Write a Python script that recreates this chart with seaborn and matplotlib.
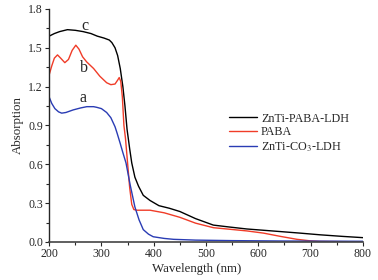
import numpy as np
import pandas as pd
import matplotlib
matplotlib.use('Agg')
import matplotlib.pyplot as plt
import seaborn as sns
from matplotlib.ticker import MultipleLocator

# 数据
wl_c = [200, 210, 220, 235, 250, 265, 280, 292, 305, 315, 320, 326, 331, 336, 341, 345,
        349, 354, 358, 364, 371, 380, 393, 410, 430, 450, 480, 514, 545, 578, 610, 642,
        680, 718, 760, 800]
abs_c = [1.59, 1.61, 1.625, 1.64, 1.635, 1.625, 1.61, 1.59, 1.575, 1.56, 1.54, 1.50, 1.44,
         1.34, 1.20, 1.05, 0.87, 0.72, 0.61, 0.50, 0.43, 0.36, 0.32, 0.28, 0.26, 0.235,
         0.18, 0.13, 0.115, 0.10, 0.09, 0.08, 0.068, 0.055, 0.043, 0.033]

wl_b = [200, 205, 210, 216, 222, 230, 237, 244, 251, 257, 264, 272, 285, 297, 310, 318,
        326, 331, 334, 337, 340, 343, 346, 350, 354, 358, 362, 368, 380, 393, 420, 450,
        480, 514, 545, 578, 610, 642, 674, 700, 718, 760, 800]
abs_b = [1.29, 1.36, 1.42, 1.445, 1.42, 1.385, 1.41, 1.48, 1.52, 1.49, 1.43, 1.39, 1.34,
         1.28, 1.23, 1.215, 1.22, 1.25, 1.27, 1.24, 1.12, 0.90, 0.80, 0.61, 0.42, 0.29,
         0.25, 0.245, 0.245, 0.245, 0.225, 0.19, 0.145, 0.11, 0.098, 0.085, 0.068, 0.043,
         0.02, 0.008, 0.004, 0.002, 0.001]

wl_a = [200, 205, 211, 218, 224, 232, 246, 260, 272, 285, 291, 300, 310, 318, 326, 330,
        336, 341, 347, 355, 364, 372, 380, 390, 399, 420, 438, 480, 550, 650, 800]
abs_a = [1.12, 1.07, 1.03, 1.005, 0.995, 1.0, 1.02, 1.035, 1.045, 1.045, 1.04, 1.03, 1.0,
         0.96, 0.89, 0.84, 0.76, 0.69, 0.61, 0.44, 0.27, 0.17, 0.095, 0.06, 0.04, 0.027,
         0.02, 0.014, 0.01, 0.007, 0.005]

labels = ['ZnTi-PABA-LDH', 'PABA', 'ZnTi-CO$_3$-LDH']
colors = ['black', '#f03c28', '#2a3cb4']
curve_tags = ['c', 'b', 'a']
tag_pos = [(268, 1.67), (266, 1.34), (264, 1.11)]

df = pd.concat([
    pd.DataFrame({'wl': wl_c, 'A': abs_c, 's': labels[0]}),
    pd.DataFrame({'wl': wl_b, 'A': abs_b, 's': labels[1]}),
    pd.DataFrame({'wl': wl_a, 'A': abs_a, 's': labels[2]}),
])

sns.set_style('ticks')
plt.rcParams['font.family'] = 'serif'
plt.rcParams['font.serif'] = ['Liberation Serif', 'DejaVu Serif']
plt.rcParams['mathtext.fontset'] = 'stix'

fig = plt.figure(figsize=(3.78, 2.8), dpi=100)
ax = fig.add_axes([0.130, 0.136, 0.830, 0.832])

sns.lineplot(data=df, x='wl', y='A', hue='s', palette=colors, hue_order=labels,
             ax=ax, linewidth=1.0, sort=False, estimator=None)

for t, (x, y) in zip(curve_tags, tag_pos):
    ax.text(x, y, t, fontsize=11.5, ha='center', va='center')

ax.set_xlim(200, 800)
ax.set_ylim(0, 1.8)
ax.xaxis.set_major_locator(MultipleLocator(100))
ax.xaxis.set_minor_locator(MultipleLocator(50))
ax.yaxis.set_major_locator(MultipleLocator(0.3))
ax.yaxis.set_minor_locator(MultipleLocator(0.15))
ax.yaxis.set_major_formatter(matplotlib.ticker.FormatStrFormatter('%.1f'))
ax.tick_params(which='major', length=3, width=0.8, labelsize=8.5, pad=1.5)
ax.tick_params(which='minor', length=2, width=0.8)
sns.despine(ax=ax)
ax.spines['left'].set_linewidth(1.0)
ax.spines['bottom'].set_linewidth(1.2)
ax.spines['bottom'].set_color('#444444')

ax.set_xlabel('Wavelength (nm)', fontsize=9.3)
ax.xaxis.set_label_coords(0.47, -0.09)
ax.set_ylabel('Absorption', fontsize=9.3, labelpad=3)

leg = ax.legend(loc='upper left', bbox_to_anchor=(0.573, 0.555), frameon=False,
                fontsize=8.7, handlelength=2.3, labelspacing=0.15, handletextpad=0.35,
                borderaxespad=0, borderpad=0)

fig.savefig('out.png', dpi=100)
